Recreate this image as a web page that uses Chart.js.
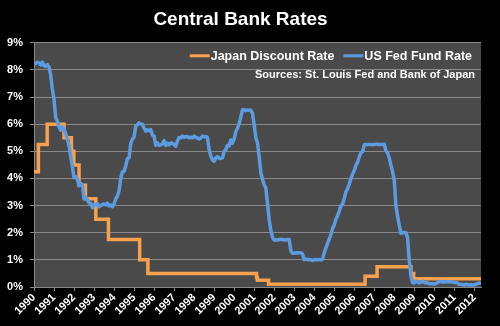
<!DOCTYPE html>
<html>
<head>
<meta charset="utf-8">
<script src="https://cdn.jsdelivr.net/npm/chart.js@4"></script>
<style>
  html, body { margin: 0; padding: 0; background: #000; }
  canvas { display: block; }
</style>
</head>
<body>
<canvas id="rates" width="500" height="326"></canvas>
<script>
// Year tick labels on the horizontal axis
const tickYears = [1990, 1991, 1992, 1993, 1994, 1995, 1996, 1997, 1998, 1999, 2000,
  2001, 2002, 2003, 2004, 2005, 2006, 2007, 2008, 2009, 2010, 2011, 2012];

// Percent tick values on the vertical axis
const tickRates = [0, 1, 2, 3, 4, 5, 6, 7, 8, 9];

// US Fed Fund Rate, monthly averages (%), Jan 1990 through May 2012
const fedStartYear = 1990;
const fedFundRate = [
  8.23, 8.24, 8.28, 8.26, 8.18, 8.29, 8.15, 8.13, 8.20, 8.11, 7.81, 7.31, // 1990
  6.91, 6.25, 6.12, 5.91, 5.78, 5.90, 5.82, 5.66, 5.45, 5.21, 4.81, 4.43, // 1991
  4.03, 4.06, 3.98, 3.73, 3.82, 3.76, 3.25, 3.30, 3.22, 3.10, 3.09, 2.92, // 1992
  3.02, 3.03, 3.07, 2.96, 3.00, 3.04, 3.06, 3.03, 3.09, 2.99, 3.02, 2.96, // 1993
  3.05, 3.25, 3.34, 3.56, 4.01, 4.25, 4.26, 4.47, 4.73, 4.76, 5.29, 5.45, // 1994
  5.53, 5.92, 5.98, 6.05, 6.01, 6.00, 5.85, 5.74, 5.80, 5.76, 5.80, 5.60, // 1995
  5.56, 5.22, 5.31, 5.22, 5.24, 5.27, 5.40, 5.22, 5.30, 5.24, 5.31, 5.29, // 1996
  5.25, 5.19, 5.39, 5.51, 5.50, 5.56, 5.52, 5.54, 5.54, 5.50, 5.52, 5.50, // 1997
  5.56, 5.51, 5.49, 5.45, 5.49, 5.56, 5.54, 5.55, 5.51, 5.07, 4.83, 4.68, // 1998
  4.63, 4.76, 4.81, 4.74, 4.74, 4.76, 4.99, 5.07, 5.22, 5.20, 5.42, 5.30, // 1999
  5.45, 5.73, 5.85, 6.02, 6.27, 6.53, 6.54, 6.50, 6.52, 6.51, 6.51, 6.40, // 2000
  5.98, 5.49, 5.31, 4.80, 4.21, 3.97, 3.77, 3.65, 3.07, 2.49, 2.09, 1.82, // 2001
  1.73, 1.74, 1.73, 1.75, 1.75, 1.75, 1.73, 1.74, 1.75, 1.75, 1.34, 1.24, // 2002
  1.24, 1.26, 1.25, 1.26, 1.26, 1.22, 1.01, 1.03, 1.01, 1.01, 1.00, 0.98, // 2003
  1.00, 1.01, 1.00, 1.00, 1.00, 1.03, 1.26, 1.43, 1.61, 1.76, 1.93, 2.16, // 2004
  2.28, 2.50, 2.63, 2.79, 3.00, 3.04, 3.26, 3.50, 3.62, 3.78, 4.00, 4.16, // 2005
  4.29, 4.49, 4.59, 4.79, 4.94, 4.99, 5.24, 5.25, 5.25, 5.25, 5.25, 5.24, // 2006
  5.25, 5.26, 5.26, 5.25, 5.25, 5.25, 5.26, 5.02, 4.94, 4.76, 4.49, 4.24, // 2007
  3.94, 2.98, 2.61, 2.28, 1.98, 2.00, 2.01, 2.00, 1.81, 0.97, 0.39, 0.16, // 2008
  0.15, 0.22, 0.18, 0.15, 0.18, 0.21, 0.16, 0.16, 0.15, 0.12, 0.12, 0.12, // 2009
  0.11, 0.13, 0.16, 0.20, 0.20, 0.18, 0.18, 0.19, 0.19, 0.19, 0.19, 0.18, // 2010
  0.17, 0.16, 0.14, 0.10, 0.09, 0.09, 0.07, 0.10, 0.08, 0.07, 0.08, 0.07, // 2011
  0.08, 0.10, 0.13, 0.14, 0.16                                            // 2012
];

// Japan Discount Rate: dates (decimal years) at which the rate changed, and the new rate (%)
const japanDates = [1990.00, 1990.22, 1990.66, 1991.50, 1991.87, 1991.99, 1992.25, 1992.57,
  1993.09, 1993.72, 1995.28, 1995.69, 2001.12, 2001.16, 2001.72, 2006.54, 2007.14,
  2008.83, 2008.97, 2012.33];
const japanRates = [4.25, 5.25, 6.00, 5.50, 5.00, 4.50, 3.75, 3.25,
  2.50, 1.75, 1.00, 0.50, 0.35, 0.25, 0.10, 0.40, 0.75,
  0.50, 0.30, 0.30];

const seriesNames = ['Japan Discount Rate', 'US Fed Fund Rate'];
const sourceNote = 'Sources: St. Louis Fed and Bank of Japan';

const ORANGE = '#F9A04E';
const BLUE = '#5A9BE2';
const FONT = "'Liberation Sans', Arial, sans-serif";

const fedPoints = fedFundRate.map((v, i) => ({ x: fedStartYear + i / 12, y: v }));
const japanPoints = japanDates.map((d, i) => ({ x: d, y: japanRates[i] }));
const xMax = fedStartYear + (fedFundRate.length - 1) / 12;

// Black page, dark grey plotting area
const backdrop = {
  id: 'backdrop',
  beforeDraw(chart) {
    const { ctx, chartArea: a } = chart;
    ctx.save();
    ctx.fillStyle = '#000';
    ctx.fillRect(0, 0, chart.width, chart.height);
    ctx.fillStyle = '#4a4a4a';
    ctx.fillRect(a.left, a.top, a.right - a.left, a.bottom - a.top);
    ctx.restore();
  }
};

// Legend with line samples and the source note, inside the plot's top-right corner
const insideLegend = {
  id: 'insideLegend',
  afterDraw(chart) {
    const { ctx, chartArea: a } = chart;
    ctx.save();
    ctx.font = 'bold 12.5px ' + FONT;
    ctx.fillStyle = '#fff';
    ctx.textBaseline = 'middle';
    ctx.textAlign = 'left';
    const y = a.top + 13;
    const sample = 20;
    const gap = 10;
    const colors = [ORANGE, BLUE];
    const widths = seriesNames.map(n => ctx.measureText(n).width);
    let x = a.right - 10 - widths[1] - sample - gap - widths[0] - sample;
    seriesNames.forEach((name, i) => {
      ctx.strokeStyle = colors[i];
      ctx.lineWidth = 3;
      ctx.beginPath();
      ctx.moveTo(x, y);
      ctx.lineTo(x + sample, y);
      ctx.stroke();
      ctx.fillText(name, x + sample + 1, y + 0.5);
      x += sample + widths[i] + gap;
    });
    ctx.font = 'bold 11px ' + FONT;
    ctx.textAlign = 'right';
    ctx.fillText(sourceNote, a.right - 6, a.top + 32);
    ctx.restore();
  }
};

new Chart(document.getElementById('rates'), {
  type: 'line',
  data: {
    datasets: [
      {
        label: seriesNames[1],
        data: fedPoints,
        borderColor: BLUE,
        borderWidth: 3.5,
        pointRadius: 0,
        tension: 0,
        borderJoinStyle: 'round',
        order: 0
      },
      {
        label: seriesNames[0],
        data: japanPoints,
        borderColor: ORANGE,
        borderWidth: 3.5,
        pointRadius: 0,
        stepped: true,
        borderJoinStyle: 'miter',
        order: 1
      }
    ]
  },
  options: {
    responsive: false,
    animation: false,
    devicePixelRatio: 1,
    layout: { padding: { left: 0, right: 19, top: 0, bottom: 0 } },
    plugins: {
      legend: { display: false },
      tooltip: { enabled: false },
      title: {
        display: true,
        text: 'Central Bank Rates',
        color: '#fff',
        font: { family: FONT, size: 19, weight: 'bold' },
        padding: { top: 8, bottom: 12 }
      }
    },
    scales: {
      x: {
        type: 'linear',
        min: fedStartYear,
        max: xMax,
        afterBuildTicks: s => { s.ticks = tickYears.map(v => ({ value: v })); },
        afterFit: s => { s.height = 39; },
        ticks: {
          color: '#fff',
          font: { family: FONT, size: 11, weight: 'bold' },
          minRotation: 45,
          maxRotation: 45,
          autoSkip: false,
          padding: 0,
          callback: v => String(v)
        },
        grid: { drawOnChartArea: false, drawTicks: true, tickLength: 4, color: '#8a8a8a' },
        border: { display: true, color: '#8a8a8a', width: 1 }
      },
      y: {
        min: 0,
        max: 9,
        afterBuildTicks: s => { s.ticks = tickRates.map(v => ({ value: v })); },
        afterFit: s => { s.width = 34; },
        ticks: {
          color: '#fff',
          font: { family: FONT, size: 11, weight: 'bold' },
          padding: 7,
          callback: v => v + '%'
        },
        grid: { color: '#8a8a8a', lineWidth: 1, tickLength: 4 },
        border: { display: true, color: '#8a8a8a', width: 1 }
      }
    }
  },
  plugins: [backdrop, insideLegend]
});
</script>
</body>
</html>
